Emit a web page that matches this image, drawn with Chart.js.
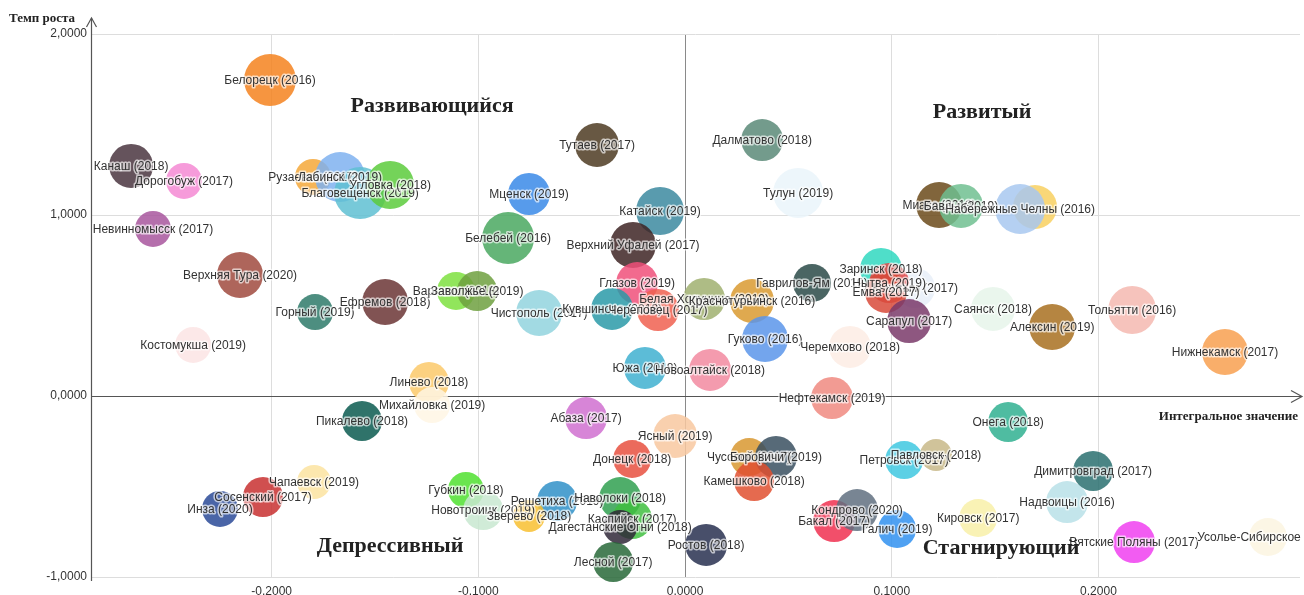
<!DOCTYPE html>
<html>
<head>
<meta charset="utf-8">
<script src="https://cdn.jsdelivr.net/npm/chart.js@4.4.1/dist/chart.umd.min.js"></script>
<style>
html,body{margin:0;padding:0;background:#fff;}
#wrap{width:1304px;height:595px;position:relative;}
</style>
</head>
<body>
<div id="wrap"><canvas id="c" width="1304" height="595"></canvas></div>
<script>
// ---- data ----
const cityLabels = [
 "Белорецк (2016)","Канаш (2018)","Дорогобуж (2017)","Рузаевка (2017)","Лабинск (2019)","Благовещенск (2019)","Угловка (2018)",
 "Невинномысск (2017)","Верхняя Тура (2020)","Горный (2019)","Ефремов (2018)","Костомукша (2019)","Линево (2018)",
 "Варгаши (2018)","Заволжье (2019)","Чистополь (2017)","Белебей (2016)","Мценск (2019)","Тутаев (2017)","Катайск (2019)",
 "Верхний Уфалей (2017)","Глазов (2019)","Кувшиново (2018)","Череповец (2017)","Белая Холуница (2019)","Краснотурьинск (2016)",
 "Гаврилов-Ям (2019)","Гуково (2016)","Черемхово (2018)","Южа (2018)","Новоалтайск (2018)","Нефтекамск (2019)",
 "Заринск (2018)","Кыштым (2017)","Нытва (2019)","Емва (2017)","Сарапул (2017)","Саянск (2018)","Алексин (2019)",
 "Тольятти (2016)","Нижнекамск (2017)","Миасс (2019)","Бавлы (2019)","","Набережные Челны (2016)","Тулун (2019)",
 "Далматово (2018)","Пикалево (2018)","Михайловка (2019)","Чапаевск (2019)","Сосенский (2017)","Инза (2020)",
 "Губкин (2018)","Новотроицк (2019)","Решетиха (2019)","Зверево (2018)","Наволоки (2018)","Каспийск (2017)",
 "Дагестанские Огни (2018)","Лесной (2017)","Ростов (2018)","Абаза (2017)","Ясный (2019)","Донецк (2018)",
 "Чусовой (2017)","Боровичи (2019)","Камешково (2018)","Бакал (2017)","Кондрово (2020)","Галич (2019)",
 "Петровск (2017)","Павловск (2018)","Онега (2018)","Кировск (2017)","Надвоицы (2016)","Димитровград (2017)",
 "Вятские Поляны (2017)","Усолье-Сибирское (2017)"
];
const integralValue = [
 -0.2008,-0.268,-0.2424,-0.180,-0.1669,-0.1572,-0.1427,
 -0.2574,-0.2153,-0.179,-0.1451,-0.238,-0.1239,
 -0.1108,-0.1006,-0.0706,-0.0856,-0.0755,-0.0426,-0.0121,
 -0.0252,-0.0232,-0.0353,-0.0131,0.0092,0.0324,
 0.0614,0.0387,0.0798,-0.0194,0.0121,0.0711,
 0.0948,0.1113,0.0987,0.0972,0.1084,0.149,0.1776,
 0.2163,0.2612,0.1229,0.1335,0.1693,0.1621,0.0547,
 0.0373,-0.1563,-0.1224,-0.1795,-0.2042,-0.225,
 -0.106,-0.0977,-0.0619,-0.0755,-0.0314,-0.0256,
 -0.0314,-0.0348,0.0102,-0.0479,-0.0048,-0.0256,
 0.031,0.044,0.0334,0.0721,0.0832,0.1026,
 0.106,0.1214,0.1563,0.1418,0.1848,0.1974,
 0.2172,0.282
];
const growthRate = [
 1.746,1.271,1.188,1.210,1.210,1.121,1.166,
 0.923,0.669,0.464,0.519,0.282,0.077,
 0.580,0.580,0.459,0.873,1.116,1.387,1.022,
 0.834,0.624,0.481,0.475,0.536,0.525,
 0.624,0.315,0.271,0.155,0.144,-0.011,
 0.702,0.597,0.624,0.575,0.414,0.481,0.381,
 0.475,0.243,1.055,1.050,1.044,1.033,1.122,
 1.414,-0.138,-0.050,-0.475,-0.558,-0.624,
 -0.519,-0.630,-0.580,-0.663,-0.564,-0.680,
 -0.724,-0.917,-0.823,-0.122,-0.221,-0.348,
 -0.337,-0.337,-0.470,-0.691,-0.630,-0.735,
 -0.354,-0.326,-0.144,-0.674,-0.586,-0.414,
 -0.807,-0.779
];
const bubbleRadius = [
 26,22,18,18,25,26,24,
 18,23,18,23,18,20,
 19,20,23,26,21,22,24,
 23,21,21,21,21,22,
 19,23,21,21,21,21,
 21,20,20,21,22,22,23,
 24,23,23,22,22,25,25,
 21,20,18,17,20,18,
 18,20,20,16,21,20,
 17,20,21,21,22,19,
 19,21,20,21,21,19,
 19,16,20,19,21,20,
 21,19
];
const palette = [
 '#F5821F','#4A3540','#F58AD4','#F5A83A','#7FB2F0','#5FC0D2','#5CCB3C',
 '#A8569E','#A04A3E','#2E7A6A','#6B3535','#FCE4E4','#FBC96A',
 '#7EE040','#6EA040','#92D4DE','#4AA860','#3A8AE8','#4E3B22','#3C8AA0',
 '#3E2525','#F0507A','#2A9AA8','#F06050','#A0B070','#D99A30',
 '#2A4A48','#5A95EA','#FDECE4','#40B0D0','#F28AA0','#F08A80',
 '#30D8C0','#E8EEF8','#E04848','#D84A3A','#7A3A6A','#E6F4EA','#A87020',
 '#F4B8B0','#F8A050','#6B4A1A','#70C090','#F8D060','#A8C8F0','#EAF4FA',
 '#5A8A78','#0A5A50','#FFF6E4','#FBE3A0','#C83030','#2A4A98',
 '#50E030','#C8E8D0','#3090C8','#F8C030','#30A050','#40C040',
 '#302838','#286838','#283050','#D070D0','#F8C8A0','#E85040',
 '#D89830','#3A5060','#E05030','#F03050','#607080','#3090F0',
 '#40C8E0','#C8B888','#30B090','#F8F0A8','#B8E0E8','#2A7070',
 '#F040F0','#FCF4E0'
];
const xTickValues = [-0.2,-0.1,0,0.1,0.2];
const yTickValues = [-1,0,1,2];
const quadrantNames = ["Развивающийся","Развитый","Депрессивный","Стагнирующий"];
const quadrantX = [-0.1224,0.1437,-0.1427,0.1529];
const quadrantY = [1.602,1.569,-0.829,-0.840];
const xAxisTitle = "Интегральное значение";
const yAxisTitle = "Темп роста";

function hexA(h,a){const n=parseInt(h.slice(1),16);return `rgba(${n>>16&255},${n>>8&255},${n&255},${a})`;}
const fmt = v => (Math.round(v*10000)/10000).toFixed(4).replace('.',',');

const points = cityLabels.map((n,i)=>({x:integralValue[i],y:growthRate[i],r:bubbleRadius[i]}));

// do not reserve extra layout room for bubble radii
const BC = Chart.BubbleController || (Chart.registry && Chart.registry.getController('bubble'));
if (BC) BC.prototype.getMaxOverflow = function(){ return 0; };

const decor = {
  id:'decor',
  beforeDatasetsDraw(chart){
    const {ctx, chartArea:a, scales:{x,y}} = chart;
    ctx.save();
    ctx.strokeStyle='#555'; ctx.lineWidth=1.2;
    const y0 = Math.round(y.getPixelForValue(0))+0.5;
    const xl = Math.round(a.left)+0.5;
    ctx.beginPath(); ctx.moveTo(xl,y0); ctx.lineTo(a.right+2,y0); ctx.stroke();
    ctx.beginPath(); ctx.moveTo(a.right-9,y0-6); ctx.lineTo(a.right+2,y0); ctx.lineTo(a.right-9,y0+6); ctx.stroke();
    ctx.beginPath(); ctx.moveTo(xl,a.bottom+4); ctx.lineTo(xl,a.top-16); ctx.stroke();
    ctx.beginPath(); ctx.moveTo(xl-5,a.top-7); ctx.lineTo(xl,a.top-16); ctx.lineTo(xl+5,a.top-7); ctx.stroke();
    ctx.restore();
  },
  afterDatasetsDraw(chart){
    const {ctx, chartArea:a, scales:{x,y}} = chart;
    ctx.save();
    ctx.font='12px "Liberation Sans", Arial, sans-serif';
    ctx.textAlign='center'; ctx.textBaseline='middle';
    ctx.lineJoin='round';
    const meta = chart.getDatasetMeta(0);
    meta.data.forEach((el,i)=>{
      const t = cityLabels[i]; if(!t) return;
      ctx.strokeStyle='rgba(255,255,255,0.65)'; ctx.lineWidth=3;
      ctx.strokeText(t, el.x, el.y+1);
      ctx.fillStyle='#333';
      ctx.fillText(t, el.x, el.y+1);
    });
    ctx.font='bold 22px "Liberation Serif", "Times New Roman", serif';
    ctx.fillStyle='#222';
    quadrantNames.forEach((q,i)=>{
      ctx.fillText(q, x.getPixelForValue(quadrantX[i]), y.getPixelForValue(quadrantY[i]));
    });
    ctx.font='bold 13px "Liberation Serif", "Times New Roman", serif';
    ctx.textAlign='left';
    ctx.fillText(yAxisTitle, 9, 19);
    ctx.textAlign='right';
    ctx.fillText(xAxisTitle, a.right-2, y.getPixelForValue(0)+21);
    ctx.restore();
  }
};

function zeroPad(s){ s.paddingTop=0; s.paddingBottom=0; s.paddingLeft=0; s.paddingRight=0; }

new Chart(document.getElementById('c'), {
  type:'bubble',
  data:{datasets:[{
    data: points,
    backgroundColor: palette.map(c=>hexA(c,0.85)),
    borderWidth:0,
    hoverBorderWidth:0,
    clip:false
  }]},
  options:{
    responsive:false,
    animation:false,
    events:[],
    layout:{padding:{top:34,right:4,left:0,bottom:0}},
    plugins:{legend:{display:false},tooltip:{enabled:false}},
    scales:{
      x:{
        type:'linear', min:-0.2874, max:0.2975,
        afterBuildTicks(s){ s.ticks = xTickValues.map(v=>({value:v})); },
        afterFit(s){ s.height = 18; zeroPad(s); },
        border:{display:false},
        grid:{drawTicks:false, color:c=> (c.tick && c.tick.value===0) ? '#8a8a8a' : '#dddddd', lineWidth:1},
        ticks:{padding:7, color:'#333', font:{family:'"Liberation Sans", Arial, sans-serif', size:12}, callback:v=>fmt(v), maxRotation:0}
      },
      y:{
        type:'linear', min:-1, max:2,
        afterBuildTicks(s){ s.ticks = yTickValues.map(v=>({value:v})); },
        afterFit(s){ s.width = 91; zeroPad(s); },
        border:{display:false},
        grid:{drawTicks:false, color:c=> (c.tick && c.tick.value===0) ? 'rgba(0,0,0,0)' : '#dddddd', lineWidth:1},
        ticks:{padding:4, color:'#333', font:{family:'"Liberation Sans", Arial, sans-serif', size:12}, callback:v=>fmt(v)}
      }
    }
  },
  plugins:[decor]
});
</script>
</body>
</html>
